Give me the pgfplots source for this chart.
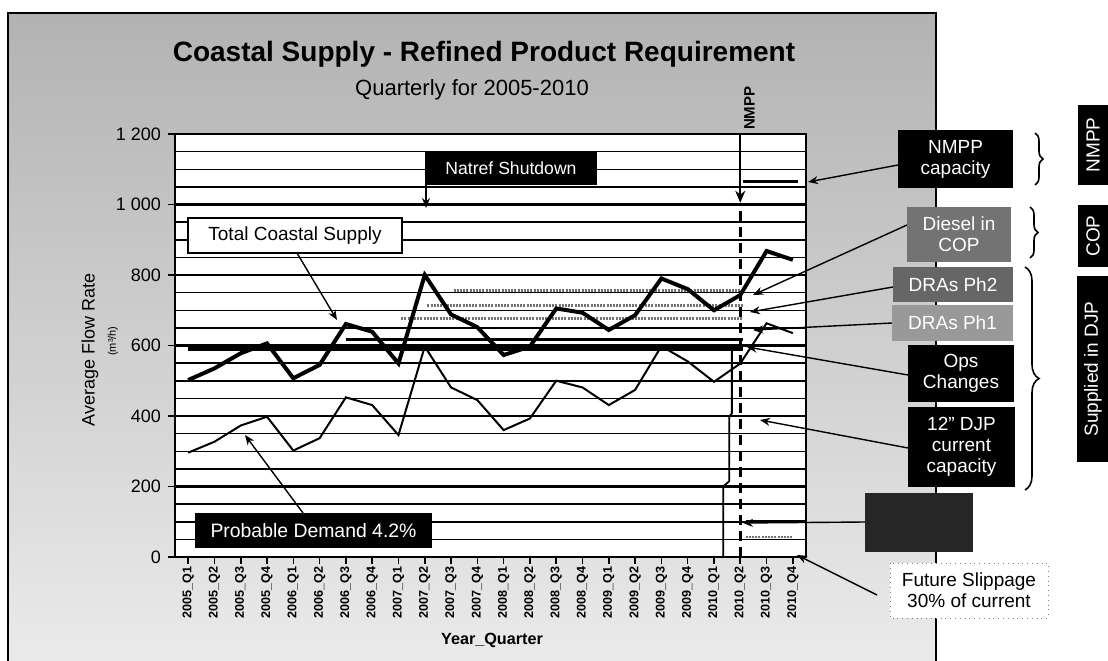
\documentclass[border=0pt]{standalone}
\usepackage{fontspec}
\setmainfont{Liberation Sans}
\usepackage{pgfplots}
\pgfplotsset{compat=1.18}
\usetikzlibrary{arrows.meta,decorations.pathreplacing}
\newcommand{\fs}[1]{\fontsize{#1}{#1}\selectfont}
\newcommand{\bx}[8]{\fill[#5] (#1,#2) rectangle (#3,#4);
  \node[text=#6, align=center, font=\fontsize{#7}{10.5}\selectfont, inner sep=0pt] at ({(#1+#3)/2},{(#2+#4)/2}) {#8};}
\begin{document}
\begin{tikzpicture}
\path[use as bounding box] (0,0) rectangle (554pt,330pt);
\begin{scope}[x=0.5pt,y=-0.5pt,yshift=330pt]
\shade[top color=black!30, bottom color=black!8] (8,13) rectangle (936,662);
\draw[line width=1.2pt] (8,662) -- (8,13) -- (936,13) -- (936,662);
\node[font=\bfseries\fs{14}, anchor=base] at (484,62) {Coastal Supply - Refined Product Requirement};
\node[font=\fs{11}, anchor=base] at (472,96) {Quarterly for 2005-2010};
\node[rotate=90, font=\fs{9}] at (90,350) {Average Flow Rate};
\node[rotate=90, font=\fs{5.5}] at (113,341) {(m³/h)};
\node[font=\bfseries\fs{8.1}] at (492,640) {Year\_Quarter};
\end{scope}

\begin{axis}[at={(87.5pt,51.5pt)}, anchor=south west, scale only axis,
  width=315.5pt, height=211.5pt,
  xmin=-0.5, xmax=23.5, ymin=0, ymax=1200,
  axis background/.style={fill=white},
  axis line style={line width=0.6pt},
  xtick={0,...,23},
  xticklabels={2005\_Q1,2005\_Q2,2005\_Q3,2005\_Q4,2006\_Q1,2006\_Q2,2006\_Q3,2006\_Q4,2007\_Q1,2007\_Q2,2007\_Q3,2007\_Q4,2008\_Q1,2008\_Q2,2008\_Q3,2008\_Q4,2009\_Q1,2009\_Q2,2009\_Q3,2009\_Q4,2010\_Q1,2010\_Q2,2010\_Q3,2010\_Q4},
  xticklabel style={rotate=90, anchor=east, font=\bfseries\fs{6.3}, inner sep=1pt},
  ytick={0,200,...,1200},
  yticklabels={0,200,400,600,800,1~000,1~200},
  yticklabel style={font=\fs{9}},
  minor ytick={50,100,...,1150},
  ymajorgrids, yminorgrids,
  major grid style={line width=1.2pt, black},
  minor grid style={line width=0.75pt, black},
  tick style={black, line width=0.8pt},
  major tick length=3.5pt, minor tick length=0pt,
  tick align=outside, xtick pos=bottom, ytick pos=left,
  clip=false]
% reference lines
\addplot[black, line width=1.5pt] coordinates {(21.1,1065)(23.2,1065)};
\addplot[black!55, line width=1.6pt, dash pattern=on 1pt off 0.6pt] coordinates {(10.1,757)(21.1,757)};
\addplot[black!55, line width=1.6pt, dash pattern=on 1pt off 0.6pt] coordinates {(9.1,714)(21.1,714)};
\addplot[black!55, line width=1.6pt, dash pattern=on 1pt off 0.6pt] coordinates {(8.1,676)(21.1,676)};
\addplot[black, line width=1.3pt] coordinates {(6.0,617)(21.1,617)};
\addplot[black, line width=2.2pt] coordinates {(0,592)(21.1,592)};
\addplot[black, line width=1.5pt] coordinates {(21.2,100)(23.5,100)};
\addplot[black!55, line width=1pt, dash pattern=on 1pt off 0.6pt] coordinates {(21.2,57)(23.0,57)};
\addplot[black, line width=0.9pt] coordinates {(20.68,592)(20.68,408)(20.58,398)(20.58,215)(20.35,200)(20.35,0)};
% data
\addplot[black, line width=1pt] coordinates {(0,296)(1,327)(2,373)(3,398)(4,302)(5,337)(6,453)(7,431)(8,346)(9,597)(10,481)(11,445)(12,360)(13,393)(14,500)(15,481)(16,431)(17,474)(18,598)(19,555)(20,497)(21,549)(22,663)(23,635)};
\addplot[black, line width=2pt] coordinates {(0,502)(1,535)(2,578)(3,606)(4,507)(5,545)(6,661)(7,639)(8,549)(9,800)(10,688)(11,652)(12,573)(13,597)(14,705)(15,693)(16,644)(17,686)(18,790)(19,760)(20,700)(21,743)(22,868)(23,843)};
% NMPP dashed line
\addplot[black, line width=1.6pt, dash pattern=on 5pt off 3pt] coordinates {(21,0)(21,1000)};
\draw[line width=1.2pt, -{Stealth[length=6pt,width=5pt]}] (axis cs:21,1200) -- (axis cs:21,1005);
\node[rotate=90, anchor=west, font=\bfseries\fs{7.5}, inner sep=1pt] at (axis cs:21.35,1205) {NMPP};
\draw[line width=1.4pt] (rel axis cs:0,0) -- (rel axis cs:0,1);
\draw[line width=1.4pt] (rel axis cs:0,0) -- (rel axis cs:1,0);
\end{axis}

\begin{scope}[x=0.5pt,y=-0.5pt,yshift=330pt]
\tikzset{ar/.style={line width=0.7pt, -{Stealth[length=5pt,width=4pt]}}}
% in-plot boxes
\draw[ar] (426,185) -- (426,208);
\bx{425}{152}{597}{185}{black}{white}{8.8}{Natref Shutdown}
\draw[ar] (297,253) -- (337,320);
\filldraw[fill=white, draw=black, line width=0.8pt] (188,218) rectangle (402,253);
\node[font=\fs{9.5}] at (295,235.5) {Total Coastal Supply};
\draw[ar] (303,513) -- (245,435);
\bx{195}{513}{432}{548}{black}{white}{9.7}{Probable Demand 4.2\%}
% right arrows
\draw[ar] (898,165) -- (808,182);
\draw[ar] (907,225) -- (753,295);
\draw[ar] (893,287) -- (750,312);
\draw[ar] (892,323) -- (753,330);
\draw[ar] (908,375) -- (747,347);
\draw[ar] (908,448) -- (760,420);
\draw[ar] (865,522) -- (743,523);
\draw[ar] (877,595) -- (797,555);
% right boxes
\bx{898}{130}{1013}{188}{black}{white}{9.5}{NMPP\\capacity}
\bx{907}{207}{1011}{262}{black!55}{white}{9.5}{Diesel in\\COP}
\bx{893}{267}{1013}{302}{black!60}{white}{9.5}{DRAs Ph2}
\bx{892}{305}{1013}{341}{black!40}{white}{9.5}{DRAs Ph1}
\bx{908}{345}{1014}{402}{black}{white}{9.5}{Ops\\Changes}
\bx{908}{407}{1015}{487}{black}{white}{9.5}{12" DJP\\current\\capacity}
\fill[black!85] (865,493) rectangle (973,552);
\filldraw[fill=white, draw=black!50, dotted] (890,563) rectangle (1048,618);
\node[align=center, font=\fontsize{9.5}{10.5}\selectfont] at (969,590.5) {Future Slippage\\30\% of current};
% braces
\draw[line width=0.8pt, decorate, decoration={brace, amplitude=4pt}] (1035,133) -- (1035,185);
\draw[line width=0.8pt, decorate, decoration={brace, amplitude=4pt}] (1030,207) -- (1030,258);
\draw[line width=0.8pt, decorate, decoration={brace, amplitude=7pt}] (1025,267) -- (1025,490);
% vertical labels
\fill[black] (1078,105) rectangle (1108,185);
\node[rotate=90, text=white, font=\fs{9.5}] at (1093,145) {NMPP};
\fill[black] (1078,205) rectangle (1108,267);
\node[rotate=90, text=white, font=\fs{9.5}] at (1093,236) {COP};
\fill[black] (1077,276) rectangle (1108,462);
\node[rotate=90, text=white, font=\fs{9.5}] at (1093,369) {Supplied in DJP};
\end{scope}
\end{tikzpicture}
\end{document}
